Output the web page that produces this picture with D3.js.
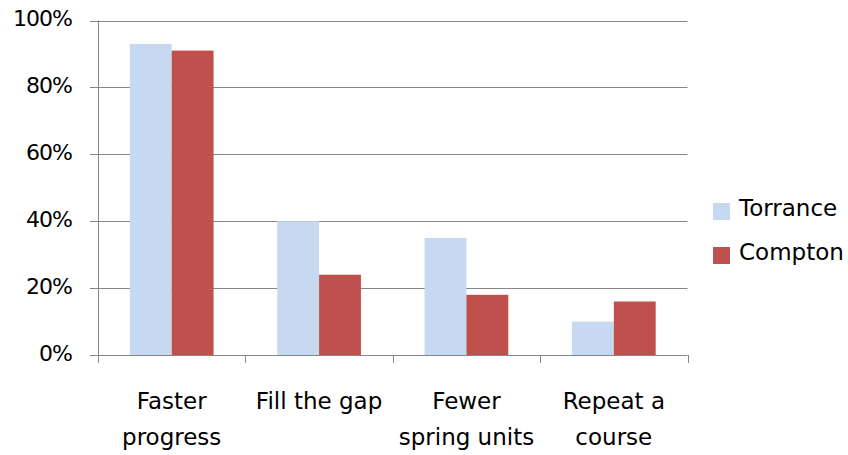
<!DOCTYPE html>
<html><head><meta charset="utf-8">
<script src="https://cdn.jsdelivr.net/npm/d3@7"></script>
<style>body{margin:0;background:#fff}svg text{font-family:"DejaVu Sans",Verdana,sans-serif;fill:#000}</style>
</head><body><svg id="c" width="848" height="455"></svg>
<script>
const categories = [["Faster","progress"],["Fill the gap"],["Fewer","spring units"],["Repeat a","course"]];
const series = ["Torrance","Compton"];
const torrance = [0.93, 0.40, 0.35, 0.10];
const compton = [0.91, 0.24, 0.18, 0.16];
const yTicks = [0,0.2,0.4,0.6,0.8,1.0];
const colors = ["#c6d9f1","#c0504d"];

const svg = d3.select("#c");
const L=98, R=687.5, T=20.5, B=355;
const x = d3.scaleBand().domain(d3.range(categories.length)).range([L,R]);
const xi = d3.scaleBand().domain(series).range([0,x.bandwidth()]).paddingOuter(0.76).paddingInner(0);
const y = d3.scaleLinear().domain([0,1]).range([B,T]);
const vals=[torrance,compton];

// gridlines
svg.append("g").selectAll("line").data(yTicks).join("line")
  .attr("x1",L-8).attr("x2",R).attr("y1",d=>Math.round(y(d))+0.5).attr("y2",d=>Math.round(y(d))+0.5)
  .attr("stroke","#868686").attr("stroke-width",1);

// bars
const g = svg.append("g");
series.forEach((s,si)=>{
  g.selectAll(".b"+si).data(vals[si]).join("rect")
   .attr("x",(d,i)=>x(i)+xi(s)).attr("width",xi.bandwidth())
   .attr("y",d=>y(d)).attr("height",d=>B-y(d)).attr("fill",colors[si]);
});

// axes lines
svg.append("line").attr("x1",L+0.5).attr("x2",L+0.5).attr("y1",T).attr("y2",B+8).attr("stroke","#868686");
svg.append("g").selectAll("line").data(d3.range(categories.length+1)).join("line")
  .attr("x1",i=>Math.round(L+i*x.step())+0.5).attr("x2",i=>Math.round(L+i*x.step())+0.5)
  .attr("y1",B).attr("y2",B+8).attr("stroke","#868686");

// y labels
svg.append("g").selectAll("text").data(yTicks).join("text")
  .attr("x",72).attr("y",d=>y(d)+5.5).attr("text-anchor","end").attr("font-size",22)
  .attr("letter-spacing","-1px")
  .text(d=>d3.format(".0%")(d));

// x labels
const xl = svg.append("g").selectAll("text").data(categories).join("text")
  .attr("text-anchor","middle").attr("font-size",23);
xl.each(function(lines,i){
  const t=d3.select(this);
  lines.forEach((ln,k)=>t.append("tspan").attr("x",x(i)+x.bandwidth()/2).attr("y",409+k*36).text(ln));
});

// legend
const lg = svg.append("g").selectAll("g").data(series).join("g")
  .attr("transform",(d,i)=>`translate(713,${203+i*44})`);
lg.append("rect").attr("width",17).attr("height",17).attr("fill",(d,i)=>colors[i]);
lg.append("text").attr("x",26).attr("y",13).attr("font-size",23).text(d=>d);
</script></body></html>
